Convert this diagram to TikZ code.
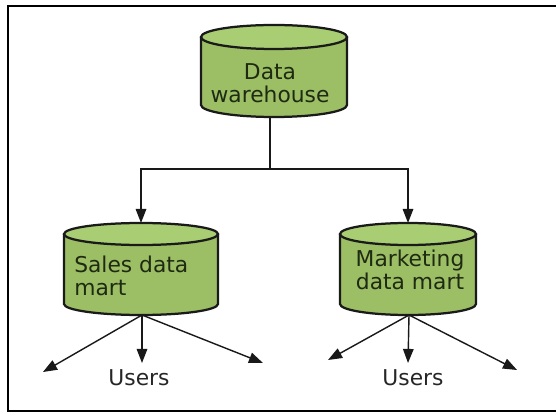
\documentclass[tikz,border=0pt]{standalone}
\usepackage{fontspec}
\setmainfont{DejaVu Sans}
\usepackage{xcolor}
\usepackage{tikz}
\usetikzlibrary{calc,arrows.meta}
\definecolor{body}{HTML}{9CBE65}
\definecolor{lid}{HTML}{A9CD72}
\definecolor{edge}{HTML}{1A1A1A}
\definecolor{ink}{HTML}{1F2A12}
\tikzset{
  frame/.style={draw=black, line width=2pt},
  cylfill/.style={fill=body},
  cyllid/.style={fill=lid, draw=edge, line width=1.6pt},
  cylline/.style={draw=edge, line width=1.6pt},
  link/.style={draw=black!90, line width=1pt, -{Triangle[length=10pt,width=7.5pt]}},
  lab/.style={text=ink, font=\fontsize{15.5}{16.5}\selectfont, inner sep=0pt},
  usr/.style={text=black!85, font=\fontsize{15.5}{16.5}\selectfont, inner sep=0pt}
}

\begin{document}
\begin{tikzpicture}[x=0.025cm, y=0.025cm]
  \useasboundingbox (0,0) rectangle (556,414);
  \draw[frame] (560,408) -- (8,408) -- (8,3) -- (560,3);

  % the three stores
  \foreach \cx/\rx/\ty/\by/\ry in {274/73/377/309/12, 141/77/180/110/11, 408/68/180/110/11}{
    \fill[cylfill] (\cx-\rx,\ty) -- (\cx-\rx,\by)
      arc[start angle=180, end angle=360, x radius=\rx, y radius=\ry] -- (\cx+\rx,\ty) -- cycle;
    \draw[cyllid] (\cx,\ty) ellipse[x radius=\rx, y radius=\ry];
    \draw[cylline] (\cx-\rx,\ty) -- (\cx-\rx,\by)
      arc[start angle=180, end angle=360, x radius=\rx, y radius=\ry] -- (\cx+\rx,\ty);
  }

  \node[lab, align=center] (whtxt) at (270,331) {Data\\warehouse};
  \node[lab, align=left, anchor=west] (satxt) at (74,138) {Sales data\\mart};
  \node[lab, align=center] (matxt) at (410,144) {Marketing\\data mart};

  % feeds from the warehouse
  \coordinate (whB) at (270,297);
  \coordinate (split) at (270,245);
  \coordinate (saT) at (141,191);
  \coordinate (maT) at (408,191);
  \draw[link] (whB) -- (split) -| (saT);
  \draw[link] (split) -| (maT);

  % users
  \coordinate (saB) at (142,99);
  \coordinate (sa1) at (43,42);
  \coordinate (sa2) at (142,51);
  \coordinate (sa3) at (263,51);
  \coordinate (maB) at (409,99);
  \coordinate (ma1) at (328,54);
  \coordinate (ma2) at (408,51);
  \coordinate (ma3) at (517,44);
  \foreach \t in {sa1,sa2,sa3} \draw[link] (saB) -- (\t);
  \foreach \t in {ma1,ma2,ma3} \draw[link] (maB) -- (\t);
  \node[usr] (sausr) at (139,36) {Users};
  \node[usr] (mausr) at (413,36) {Users};
\end{tikzpicture}
\end{document}
